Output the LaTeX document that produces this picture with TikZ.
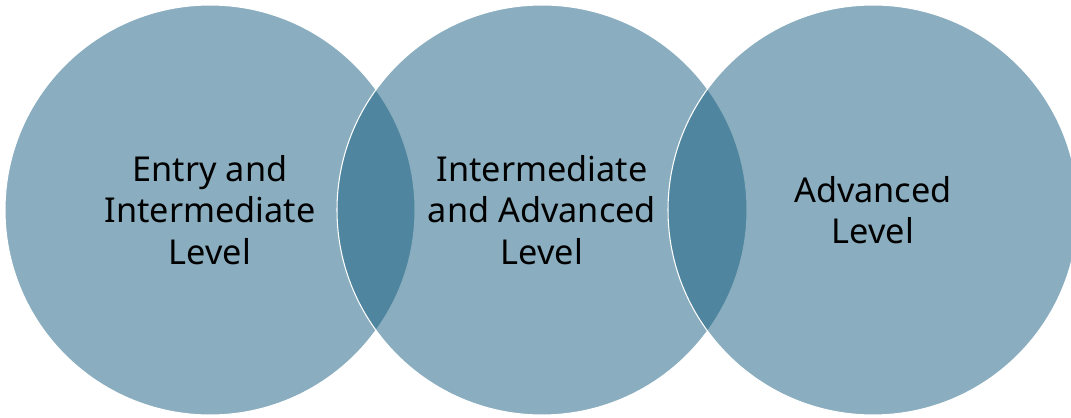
\documentclass[tikz,border=0pt]{standalone}
\usepackage{fontspec}
\setmainfont{Noto Sans}
\usepackage{xcolor}
\definecolor{levelblue}{RGB}{21,93,127}

\begin{document}
\begin{tikzpicture}[
        level/.style={circle, minimum size=8.2cm, inner sep=0pt,
            fill=levelblue, fill opacity=0.5, text opacity=1,
            draw=white, line width=0.6pt, align=center,
            font=\fontsize{19.5}{23.6}\selectfont}]
        % page size
        \useasboundingbox (0cm,0cm) rectangle (21.42cm,8.34cm);
        \clip (0cm,0cm) rectangle (21.42cm,8.34cm);

        %entry and intermediate
        \node[level] (entry) at (4.2cm,4.14cm) {Entry and\\Intermediate\\Level};

        %intermediate and advanced
        \node[level] (inter) at (10.84cm,4.14cm) {Intermediate\\and Advanced\\Level};

        %advanced
        \node[level] (adv) at (17.46cm,4.14cm) {Advanced\\Level};
    \end{tikzpicture}
\end{document}
